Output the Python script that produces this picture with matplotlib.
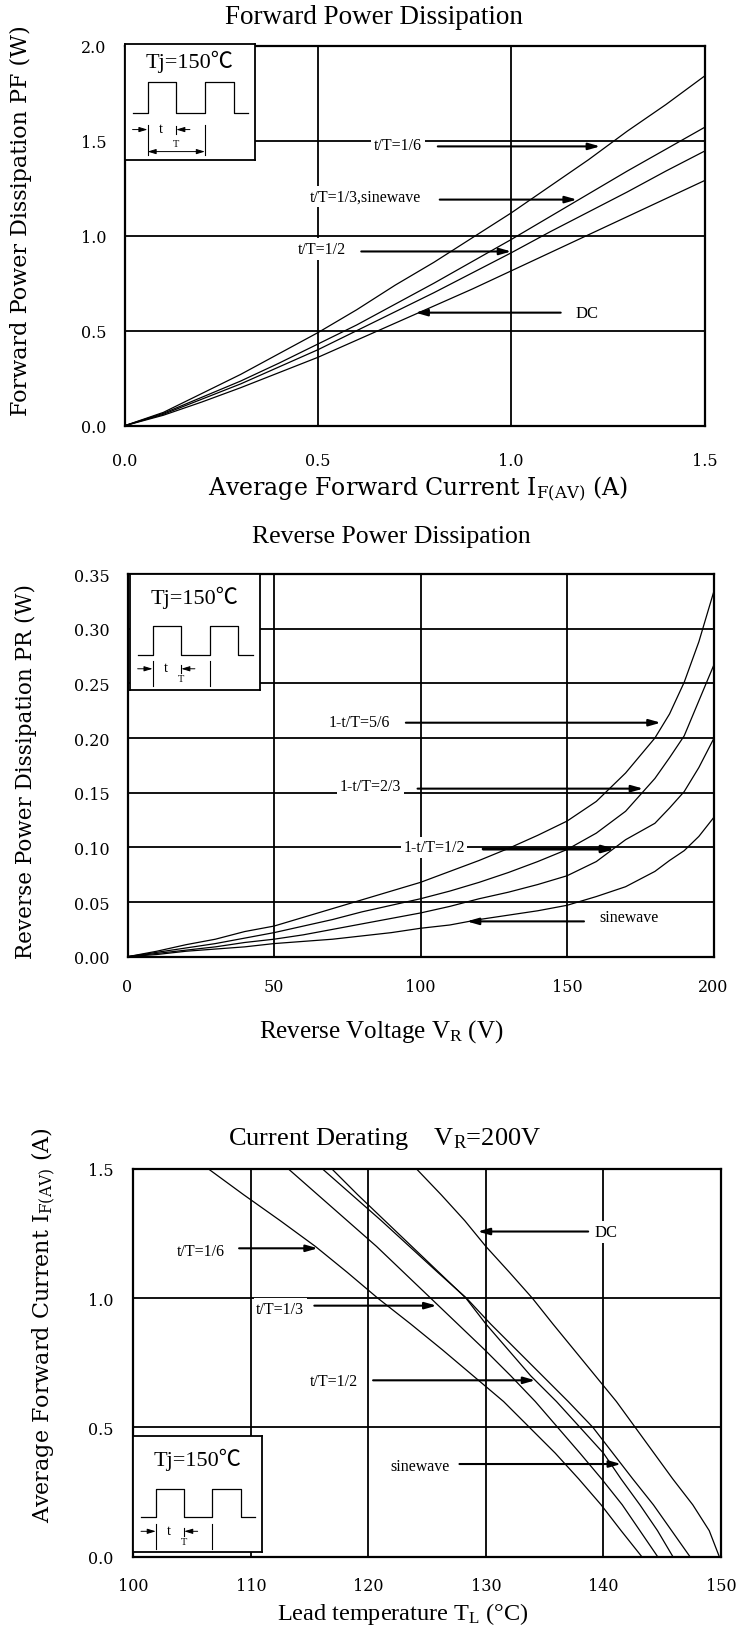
import matplotlib
matplotlib.use('Agg')
import matplotlib.pyplot as plt

plt.rcParams['mathtext.fontset'] = 'custom'
plt.rcParams['mathtext.rm'] = 'Liberation Serif'
plt.rcParams['mathtext.it'] = 'Liberation Serif:italic'
plt.rcParams['mathtext.bf'] = 'Liberation Serif:bold'

TIMES = ['Liberation Serif', 'DejaVu Serif']
WIDE = ['DejaVu Serif']
TJ = ['Liberation Serif', 'Noto Sans CJK JP']

# ---------------- Chart 1: Forward Power Dissipation ----------------
if_avg = [0, 0.1, 0.2, 0.3, 0.4, 0.5, 0.6, 0.7, 0.8, 0.9, 1.0, 1.1, 1.2, 1.3, 1.4, 1.5]
pf_t16 = [0, 0.07, 0.17, 0.27, 0.38, 0.49, 0.61, 0.74, 0.86, 0.99, 1.12, 1.26, 1.40, 1.55, 1.69, 1.84]
pf_t13_sine = [0, 0.065, 0.15, 0.235, 0.33, 0.43, 0.53, 0.64, 0.75, 0.865, 0.98, 1.10, 1.22, 1.34, 1.455, 1.57]
pf_t12 = [0, 0.06, 0.14, 0.22, 0.31, 0.40, 0.50, 0.60, 0.70, 0.805, 0.91, 1.02, 1.125, 1.23, 1.34, 1.445]
pf_dc = [0, 0.055, 0.125, 0.20, 0.28, 0.36, 0.45, 0.54, 0.63, 0.72, 0.815, 0.91, 1.005, 1.10, 1.195, 1.29]
fwd_xticks = [0.0, 0.5, 1.0, 1.5]
fwd_xlabels = ['0.0', '0.5', '1.0', '1.5']
fwd_yticks = [0.0, 0.5, 1.0, 1.5, 2.0]
fwd_ylabels = ['0.0', '0.5', '1.0', '1.5', '2.0']
fwd_notes = ['t/T=1/6', 't/T=1/3,sinewave', 't/T=1/2', 'DC']

# ---------------- Chart 2: Reverse Power Dissipation ----------------
vr = [0, 10, 20, 30, 40, 50, 60, 70, 80, 90, 100, 110, 120, 130, 140, 150, 160, 170, 180, 185, 190, 195, 200]
pr_56 = [0, 0.005, 0.011, 0.016, 0.023, 0.028, 0.036, 0.044, 0.052, 0.060, 0.068, 0.078, 0.088, 0.099, 0.111,
         0.124, 0.142, 0.168, 0.200, 0.222, 0.251, 0.288, 0.333]
pr_23 = [0, 0.004, 0.008, 0.012, 0.017, 0.022, 0.028, 0.034, 0.041, 0.047, 0.053, 0.060, 0.068, 0.077, 0.087,
         0.098, 0.113, 0.133, 0.163, 0.182, 0.202, 0.234, 0.266]
pr_12 = [0, 0.003, 0.006, 0.009, 0.013, 0.016, 0.020, 0.025, 0.030, 0.035, 0.040, 0.046, 0.053, 0.059, 0.066,
         0.074, 0.087, 0.107, 0.122, 0.136, 0.151, 0.173, 0.199]
pr_sine = [0, 0.002, 0.005, 0.007, 0.009, 0.012, 0.014, 0.016, 0.019, 0.022, 0.026, 0.029, 0.034, 0.038, 0.042,
           0.047, 0.055, 0.064, 0.078, 0.088, 0.097, 0.110, 0.127]
rev_xticks = [0, 50, 100, 150, 200]
rev_xlabels = ['0', '50', '100', '150', '200']
rev_yticks = [0.0, 0.05, 0.10, 0.15, 0.20, 0.25, 0.30, 0.35]
rev_ylabels = ['0.00', '0.05', '0.10', '0.15', '0.20', '0.25', '0.30', '0.35']
rev_notes = ['1-t/T=5/6', '1-t/T=2/3', '1-t/T=1/2', 'sinewave']

# ---------------- Chart 3: Current Derating ----------------
if_derate = [1.5, 1.4, 1.3, 1.2, 1.1, 1.0, 0.9, 0.8, 0.7, 0.6, 0.5, 0.4, 0.3, 0.2, 0.1, 0.0]
tl_t16 = [106.4, 109.4, 112.5, 115.5, 118.2, 120.8, 123.6, 126.3, 128.9, 131.5, 133.7, 135.9, 137.9, 139.8, 141.5, 143.25]
tl_t13 = [113.2, 115.7, 118.2, 120.7, 123.0, 125.3, 127.6, 129.9, 132.1, 134.2, 136.1, 138.0, 139.85, 141.6, 143.1, 144.6]
tl_t12 = [116.9, 119.1, 121.4, 123.7, 126.0, 128.3, 130.0, 131.9, 133.8, 136.0, 138.0, 140.0, 141.5, 143.1, 144.6, 145.9]
tl_sine = [116.1, 118.6, 121.1, 123.5, 125.9, 128.35, 130.4, 132.6, 134.8, 137.0, 139.1, 140.8, 142.5, 144.25, 145.8, 147.35]
tl_dc = [124.1, 126.2, 128.2, 130.0, 132.0, 133.95, 135.7, 137.5, 139.3, 141.1, 142.7, 144.3, 145.9, 147.6, 149.0, 149.85]
der_xticks = [100, 110, 120, 130, 140, 150]
der_xlabels = ['100', '110', '120', '130', '140', '150']
der_yticks = [0.0, 0.5, 1.0, 1.5]
der_ylabels = ['0.0', '0.5', '1.0', '1.5']
der_notes = ['t/T=1/6', 't/T=1/3', 't/T=1/2', 'sinewave', 'DC']

W, H = 736, 1631
fig = plt.figure(figsize=(W / 100, H / 100), dpi=100)


def px_rect(left, top, right, bottom):
    return [left / W, 1 - bottom / H, (right - left) / W, (bottom - top) / H]


def fx(px):
    return px / W


def fy(py):
    return 1 - py / H


def style_axes(ax, xt, xl, yt, yl, xlim, ylim, xpad, ypad):
    ax.set_xlim(*xlim)
    ax.set_ylim(*ylim)
    ax.set_xticks(xt)
    ax.set_xticklabels(xl, fontfamily=WIDE, fontsize=11.5)
    ax.set_yticks(yt)
    ax.set_yticklabels(yl, fontfamily=WIDE, fontsize=11.5)
    ax.tick_params(axis='x', length=0, pad=xpad)
    ax.tick_params(axis='y', length=0, pad=ypad)
    ax.grid(True, color='black', linewidth=1.3)
    for s in ax.spines.values():
        s.set_linewidth(1.6)


def draw_inset(ax, rect, tj_v, hi, lo, arr_v, line_top, line_bot, period_arrow):
    iax = ax.inset_axes(rect)
    iax.set_xlim(0, 1)
    iax.set_ylim(0, 1)
    iax.set_xticks([])
    iax.set_yticks([])
    iax.set_facecolor('white')
    for s in iax.spines.values():
        s.set_linewidth(1.3)
    iax.text(0.5, tj_v, 'Tj=150℃', ha='center', va='center', fontsize=16, fontfamily=TJ)
    ex = [0.06, 0.175, 0.395, 0.615, 0.835, 0.945]
    wx = [ex[0], ex[1], ex[1], ex[2], ex[2], ex[3], ex[3], ex[4], ex[4], ex[5]]
    wy = [lo, lo, hi, hi, lo, lo, hi, hi, lo, lo]
    iax.plot(wx, wy, color='black', lw=0.9)
    ap = dict(arrowstyle='-|>,head_length=0.5,head_width=0.15', color='black', lw=0.7,
              shrinkA=0, shrinkB=0)
    iax.annotate('', xy=(ex[1], arr_v), xytext=(ex[0], arr_v), arrowprops=ap)
    iax.annotate('', xy=(ex[2], arr_v), xytext=(0.50, arr_v), arrowprops=ap)
    iax.text(0.275, arr_v + 0.01, 't', ha='center', va='center', fontsize=10.5, fontfamily=TIMES)
    iax.plot([ex[1], ex[1]], [line_top, line_bot], color='black', lw=0.8)
    iax.plot([ex[3], ex[3]], [line_top, line_bot], color='black', lw=0.8)
    iax.plot([ex[2], ex[2]], [arr_v + 0.03, arr_v - 0.04], color='black', lw=0.8)
    iax.text(ex[2], (arr_v + line_bot) / 2 - 0.01, 'T', ha='center', va='center', fontsize=7.5,
             fontfamily=TIMES)
    if period_arrow:
        ap2 = dict(arrowstyle='<|-|>,head_length=0.5,head_width=0.15', color='black', lw=0.7,
                   shrinkA=0, shrinkB=0)
        iax.annotate('', xy=(ex[3], line_bot + 0.03), xytext=(ex[1], line_bot + 0.03), arrowprops=ap2)
    return iax


ARROW = dict(arrowstyle='-|>,head_length=0.7,head_width=0.2', color='black', lw=1.5,
             shrinkA=0, shrinkB=0)
BOX = dict(facecolor='white', edgecolor='none', pad=2.0)


def note(ax, txt, tx, ty, x0, x1, ay, fs=11.5, lw=1.5):
    ax.text(tx, ty, txt, ha='center', va='center', fontsize=fs, fontfamily=TIMES, bbox=BOX, zorder=3)
    ap = dict(ARROW)
    ap['lw'] = lw
    ax.annotate('', xy=(x1, ay), xytext=(x0, ay), arrowprops=ap, zorder=3)


# ================= Chart 1 =================
ax1 = fig.add_axes(px_rect(124.7, 46.7, 704.5, 426.7))
style_axes(ax1, fwd_xticks, fwd_xlabels, fwd_yticks, fwd_ylabels, (0, 1.5), (0, 2.0), 19, 13)
for ys in (pf_t16, pf_t13_sine, pf_t12, pf_dc):
    ax1.plot(if_avg, ys, color='black', lw=0.9, zorder=4)
note(ax1, fwd_notes[0], 0.707, 1.48, 0.81, 1.23, 1.47)
note(ax1, fwd_notes[1], 0.622, 1.205, 0.815, 1.17, 1.19)
note(ax1, fwd_notes[2], 0.509, 0.93, 0.612, 1.0, 0.917)
note(ax1, fwd_notes[3], 1.197, 0.595, 1.128, 0.752, 0.595, fs=12)
draw_inset(ax1, [0.0, 0.70, 0.225, 0.305], 0.85, 0.67, 0.40, 0.26, 0.30, 0.04, True)
fig.text(fx(374), fy(17.7), 'Forward Power Dissipation', ha='center', va='center',
         fontsize=19.5, fontfamily=TIMES)
fig.text(fx(418), fy(488.6), r'Average Forward Current I$_{\mathregular{F(AV)}}$ (A)',
         ha='center', va='center', fontsize=17, fontfamily=WIDE)
fig.text(fx(20.8), fy(220.8), 'Forward Power Dissipation PF (W)', ha='center', va='center',
         rotation=90, fontsize=16, fontfamily=WIDE)

# ================= Chart 2 =================
ax2 = fig.add_axes(px_rect(127.5, 575, 713.5, 957.7))
style_axes(ax2, rev_xticks, rev_xlabels, rev_yticks, rev_ylabels, (0, 200), (0, 0.35), 15, 13)
for ys in (pr_56, pr_23, pr_12, pr_sine):
    ax2.plot(vr, ys, color='black', lw=0.9, zorder=4)
note(ax2, rev_notes[0], 79, 0.215, 95, 182, 0.214)
note(ax2, rev_notes[1], 83, 0.156, 99, 176, 0.1537)
note(ax2, rev_notes[2], 104.6, 0.1, 121.4, 166.5, 0.0985, lw=2.2)
note(ax2, rev_notes[3], 171, 0.036, 155.8, 115.8, 0.0323)
draw_inset(ax2, [0.004, 0.698, 0.222, 0.302], 0.80, 0.55, 0.30, 0.18, 0.243, 0.03, False)
fig.text(fx(391), fy(537.4), 'Reverse Power Dissipation', ha='center', va='center',
         fontsize=18.5, fontfamily=TIMES)
fig.text(fx(381.5), fy(1032), r'Reverse Voltage V$_{\mathregular{R}}$ (V)', ha='center', va='center',
         fontsize=18, fontfamily=TIMES)
fig.text(fx(26), fy(771.6), 'Reverse Power Dissipation PR (W)', ha='center', va='center',
         rotation=90, fontsize=15.5, fontfamily=WIDE)

# ================= Chart 3 =================
ax3 = fig.add_axes(px_rect(133.3, 1170, 721, 1557.5))
style_axes(ax3, der_xticks, der_xlabels, der_yticks, der_ylabels, (100, 150), (0, 1.5), 15, 14)
for xs in (tl_t16, tl_t13, tl_t12, tl_sine, tl_dc):
    ax3.plot(xs, if_derate, color='black', lw=0.9, zorder=4)
note(ax3, der_notes[0], 105.75, 1.184, 109.0, 115.7, 1.193)
note(ax3, der_notes[1], 112.5, 0.959, 115.4, 125.8, 0.971)
note(ax3, der_notes[2], 117.1, 0.678, 120.4, 134.2, 0.682)
note(ax3, der_notes[3], 124.4, 0.349, 127.75, 141.5, 0.358)
note(ax3, der_notes[4], 140.2, 1.255, 138.7, 129.3, 1.258, fs=12)
draw_inset(ax3, [0.0, 0.011, 0.219, 0.30], 0.80, 0.545, 0.30, 0.18, 0.24, 0.03, False)
fig.text(fx(385), fy(1139), r'Current Derating    V$_{\mathregular{R}}$=200V', ha='center', va='center',
         fontsize=19, fontfamily=TIMES)
fig.text(fx(403), fy(1614), r'Lead temperature T$_{\mathregular{L}}$ (°C)', ha='center', va='center',
         fontsize=17.5, fontfamily=TIMES)
fig.text(fx(43.7), fy(1325), r'Average Forward Current I$_{\mathregular{F(AV)}}$ (A)', ha='center',
         va='center', rotation=90, fontsize=16, fontfamily=WIDE)

fig.savefig('out.png', dpi=100)
